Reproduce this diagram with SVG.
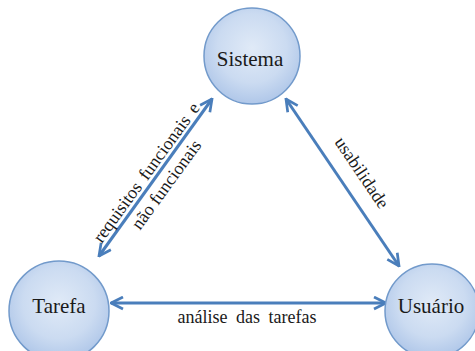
<svg xmlns="http://www.w3.org/2000/svg" width="475" height="351" viewBox="0 0 475 351">
  <style>
    .node circle { fill: url(#bubble); stroke: #729acb; stroke-width: 1.5; }
    .node text { font-family: "Liberation Serif", "Times New Roman", serif; font-size: 21px; fill: #1a1a1a; text-anchor: middle; }
    .edge { stroke: #4a7ebb; stroke-width: 3; fill: none; marker-start: url(#tip); marker-end: url(#tip); }
    .lbl { font-family: "Liberation Serif", "Times New Roman", serif; font-size: 18px; fill: #1a1a1a; text-anchor: middle; }
  </style>
  <defs>
    <radialGradient id="bubble" cx="0.5" cy="0.42" r="0.6">
      <stop offset="0" stop-color="#e0eaf7"/>
      <stop offset="0.6" stop-color="#cbdbf1"/>
      <stop offset="1" stop-color="#adc5e8"/>
    </radialGradient>
    <marker id="tip" viewBox="0 0 10 10" refX="9" refY="5" markerWidth="5" markerHeight="5" orient="auto-start-reverse" markerUnits="strokeWidth">
      <path d="M1,1 L9,5 L1,9" fill="none" stroke="#4a7ebb" stroke-width="1.8" stroke-linejoin="miter"/>
    </marker>
  </defs>

  <g id="connectors">
    <line class="edge" x1="99" y1="256" x2="212" y2="99"/>
    <line class="edge" x1="286" y1="99" x2="399" y2="266"/>
    <line class="edge" x1="111" y1="303" x2="386" y2="303"/>
    <text class="lbl" transform="translate(151,176) rotate(-54)" style="word-spacing:3px">requisitos funcionais  e</text>
    <text class="lbl" transform="translate(171,188) rotate(-54)">não funcionais</text>
    <text class="lbl" transform="translate(357,176) rotate(56)">usabilidade</text>
    <text class="lbl" x="247" y="323" style="word-spacing:4px">análise das tarefas</text>
  </g>

  <g id="sistema" class="node">
    <circle cx="252" cy="56" r="48"/>
    <text x="250" y="66">Sistema</text>
  </g>
  <g id="tarefa" class="node">
    <circle cx="59" cy="311" r="50"/>
    <text x="59" y="313">Tarefa</text>
  </g>
  <g id="usuario" class="node">
    <circle cx="432" cy="311" r="47"/>
    <text x="431" y="313">Usuário</text>
  </g>
</svg>
